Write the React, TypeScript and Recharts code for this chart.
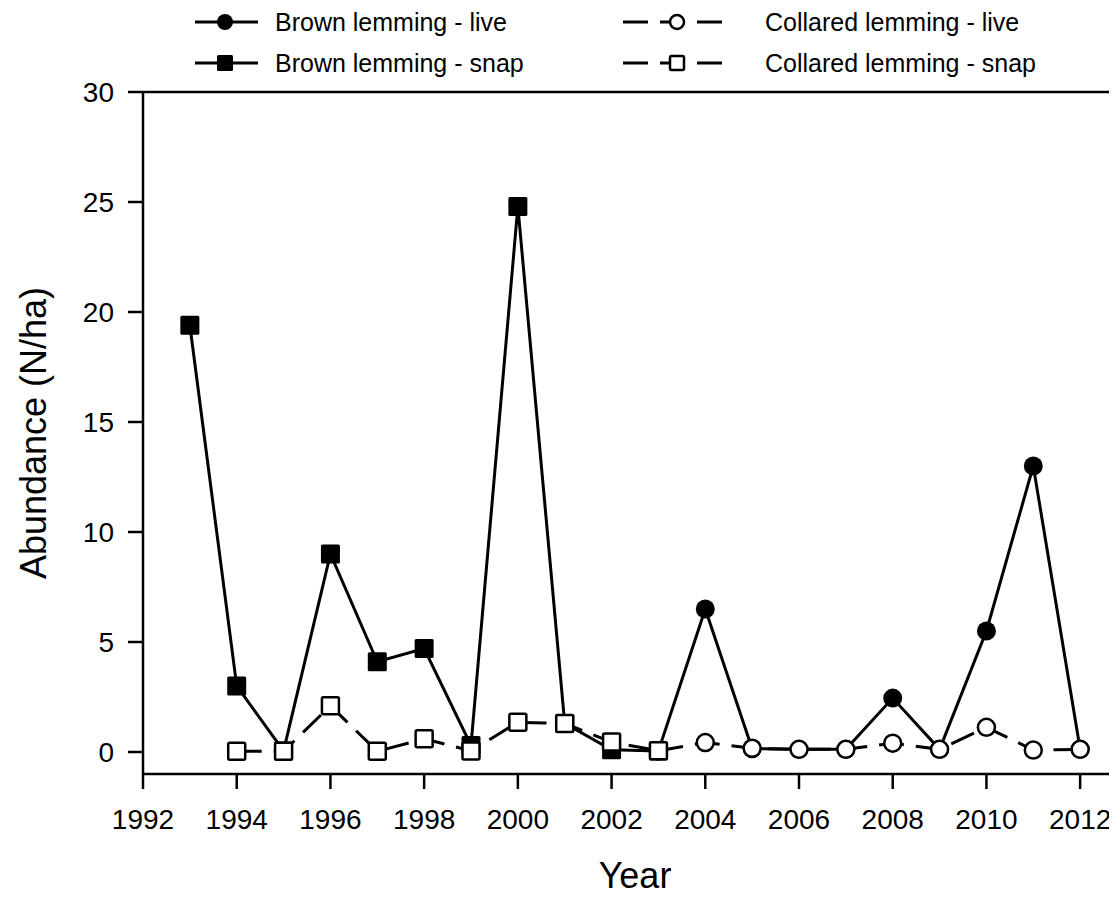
import React from 'react';
import { LineChart, Line, XAxis, YAxis, ReferenceLine, Legend } from 'recharts';

// values (N/ha)
const brownSnapYears = [1993, 1994, 1995, 1996, 1997, 1998, 1999, 2000, 2001, 2002, 2003];
const brownSnapValues = [19.4, 3.0, 0.05, 9.0, 4.1, 4.7, 0.3, 24.8, 1.3, 0.1, 0.05];

const brownLiveYears = [2003, 2004, 2005, 2006, 2007, 2008, 2009, 2010, 2011, 2012];
const brownLiveValues = [0.05, 6.5, 0.15, 0.12, 0.12, 2.45, 0.12, 5.5, 13.0, 0.12];

const collaredSnapYears = [1994, 1995, 1996, 1997, 1998, 1999, 2000, 2001, 2002, 2003];
const collaredSnapValues = [0.03, 0.03, 2.1, 0.03, 0.6, 0.05, 1.35, 1.3, 0.45, 0.06];

const collaredLiveYears = [2003, 2004, 2005, 2006, 2007, 2008, 2009, 2010, 2011, 2012];
const collaredLiveValues = [0.06, 0.43, 0.17, 0.12, 0.12, 0.4, 0.12, 1.12, 0.09, 0.12];

const yearTicks = [1992, 1994, 1996, 1998, 2000, 2002, 2004, 2006, 2008, 2010, 2012];
const abundanceTicks = [0, 5, 10, 15, 20, 25, 30];

const FONT = '"Liberation Sans", Arial, Helvetica, sans-serif';
const DASH = '25 12';

const toPoints = (years: number[], values: number[]) =>
    years.map((year, i) => ({ year, value: values[i] }));

type Marker = 'circle' | 'square';

const drawMarker = (kind: Marker, filled: boolean, cx: number, cy: number, size: number, key?: string) => {
    const fill = filled ? '#000' : '#fff';
    if (kind === 'circle') {
        const r = filled ? size / 2 : size / 2 - 1;
        return <circle key={key} cx={cx} cy={cy} r={r} fill={fill} stroke="#000" strokeWidth={filled ? 0 : 2.5} />;
    }
    const s = filled ? size : size - 2;
    return (
        <rect key={key} x={cx - s / 2} y={cy - s / 2} width={s} height={s} rx={1.5}
            fill={fill} stroke="#000" strokeWidth={filled ? 0 : 2.5} />
    );
};

const dotFor = (id: string, kind: Marker, filled: boolean) => (p: any) =>
    drawMarker(kind, filled, p.cx, p.cy, 19, `${id}-${p.index}`);

const series = [
    { id: 'bl', name: 'Brown lemming - live', data: toPoints(brownLiveYears, brownLiveValues), marker: 'circle' as Marker, filled: true, dashed: false },
    { id: 'bs', name: 'Brown lemming - snap', data: toPoints(brownSnapYears, brownSnapValues), marker: 'square' as Marker, filled: true, dashed: false },
    { id: 'cl', name: 'Collared lemming - live', data: toPoints(collaredLiveYears, collaredLiveValues), marker: 'circle' as Marker, filled: false, dashed: true },
    { id: 'cs', name: 'Collared lemming - snap', data: toPoints(collaredSnapYears, collaredSnapValues), marker: 'square' as Marker, filled: false, dashed: true },
];

// legend: two columns, two rows
const legendCols = [
    { x1: 195, x2: 258, mx: 225, tx: 275 },
    { x1: 623, x2: 723, mx: 677, tx: 765 },
];
const legendRows = [22, 63];

const LegendGraphic = () => (
    <svg width={1117} height={85} style={{ display: 'block' }}>
        {series.map((s, i) => {
            const col = legendCols[s.dashed ? 1 : 0];
            const y = legendRows[i % 2];
            return (
                <g key={s.id}>
                    <line x1={col.x1} x2={col.x2} y1={y} y2={y} stroke="#000" strokeWidth={3}
                        strokeDasharray={s.dashed ? DASH : undefined} />
                    {drawMarker(s.marker, s.filled, col.mx, y, 16)}
                    <text x={col.tx} y={y + 9} fontFamily={FONT} fontSize={25} fill="#000">{s.name}</text>
                </g>
            );
        })}
    </svg>
);

const tickStyle = { fill: '#000', fontSize: 28, fontFamily: FONT };

export default function App() {
    return (
        <div style={{ margin: -8, width: 1117, height: 897, overflow: 'hidden', background: '#fff', position: 'relative' }}>
            <LineChart width={1147} height={897} margin={{ top: 92, right: 20, left: 0, bottom: 43 }}>
                <XAxis
                    dataKey="year"
                    type="number"
                    domain={[1992, 2013]}
                    ticks={yearTicks}
                    allowDataOverflow
                    height={80}
                    tickSize={15}
                    tickMargin={20}
                    tick={tickStyle}
                    axisLine={{ stroke: '#000', strokeWidth: 2.5 }}
                    tickLine={{ stroke: '#000', strokeWidth: 2.5 }}
                    label={{
                        content: ({ viewBox }: any) => (
                            <text x={viewBox.x + viewBox.width / 2} y={888} textAnchor="middle"
                                fontFamily={FONT} fontSize={36} fill="#000">Year</text>
                        ),
                    }}
                />
                <YAxis
                    type="number"
                    domain={[-1, 30]}
                    ticks={abundanceTicks}
                    allowDataOverflow
                    width={143}
                    tickSize={15}
                    tickMargin={14}
                    tick={tickStyle}
                    axisLine={{ stroke: '#000', strokeWidth: 2.5 }}
                    tickLine={{ stroke: '#000', strokeWidth: 2.5 }}
                    label={{
                        content: ({ viewBox }: any) => {
                            const cx = 46;
                            const cy = viewBox.y + viewBox.height / 2;
                            return (
                                <text x={cx} y={cy} textAnchor="middle" transform={`rotate(-90 ${cx} ${cy})`}
                                    fontFamily={FONT} fontSize={36} fill="#000">Abundance (N/ha)</text>
                            );
                        },
                    }}
                />
                <ReferenceLine y={30} stroke="#000" strokeWidth={2.5} />
                {series.map(s => (
                    <Line
                        key={s.id}
                        data={s.data}
                        dataKey="value"
                        name={s.name}
                        type="linear"
                        stroke="#000"
                        strokeWidth={3}
                        strokeDasharray={s.dashed ? DASH : undefined}
                        dot={dotFor(s.id, s.marker, s.filled)}
                        activeDot={false}
                        isAnimationActive={false}
                    />
                ))}
                <Legend
                    layout="horizontal"
                    verticalAlign="middle"
                    align="center"
                    wrapperStyle={{ top: 0, left: 0, width: 1117, height: 85 }}
                    content={() => <LegendGraphic />}
                />
            </LineChart>
        </div>
    );
}
